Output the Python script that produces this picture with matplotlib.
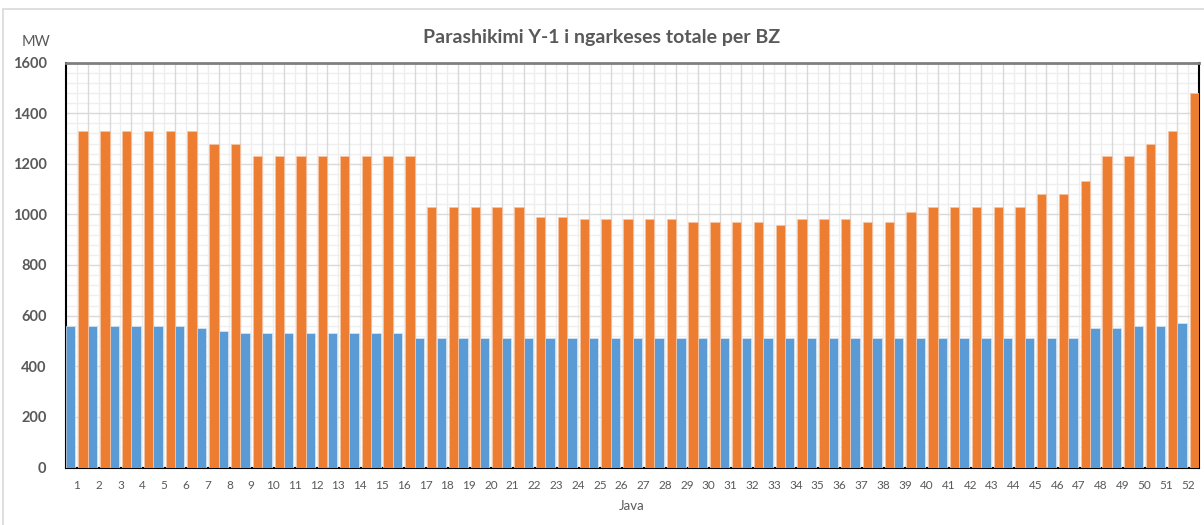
import matplotlib.pyplot as plt
import numpy as np
from matplotlib.patches import Rectangle
from matplotlib.ticker import MultipleLocator

plt.rcParams["font.family"] = ["Lato", "DejaVu Sans"]

weeks = list(range(1, 53))
blue_values = [560] * 6 + [550, 540] + [530] * 8 + [510] * 31 + [550, 550, 560, 560, 570]
orange_values = (
    [1330] * 6 + [1280] * 2 + [1230] * 8 + [1030] * 5 + [990] * 2 + [980] * 5
    + [970] * 4 + [960] + [980] * 3 + [970] * 2 + [1010] + [1030] * 5
    + [1080] * 2 + [1130] + [1230] * 2 + [1280] + [1330] + [1480]
)
y_ticks = [0, 200, 400, 600, 800, 1000, 1200, 1400, 1600]

BLUE = "#5b9bd5"
ORANGE = "#ed7d31"
TEXT = "#595959"

fig = plt.figure(figsize=(12.04, 5.25), dpi=100)
fig.patch.set_facecolor("white")
fig.patches.append(Rectangle((3 / 1204, -0.01), 1.1, 1 - 9 / 525 + 0.01, transform=fig.transFigure,
                             facecolor="none", edgecolor="#d9d9d9", linewidth=1.2))

ax = fig.add_axes([66 / 1204, 1 - 467.5 / 525, (1199 - 66) / 1204, (467.5 - 62.5) / 525])

x = np.array(weeks)
ax.bar(x - 0.28, blue_values, width=0.43, color=BLUE, edgecolor="#dbe8f5", linewidth=0.5, zorder=3)
ax.bar(x + 0.285, orange_values, width=0.43, color=ORANGE, edgecolor="#f6c7a8", linewidth=0.5, zorder=3)

ax.set_xlim(0.5, 52.5)
ax.set_ylim(0, 1600)
ax.set_yticks(y_ticks)
ax.set_yticklabels([str(v) for v in y_ticks], fontweight="bold")
ax.yaxis.set_minor_locator(MultipleLocator(40))
ax.set_xticks(weeks)
ax.set_xticklabels([str(w) for w in weeks])

# category boundaries are the major vertical grid, centres the minor one
for b in np.arange(1.5, 52.5, 1.0):
    ax.axvline(b, color="#d9d9d9", linewidth=1.0, zorder=1)
for c in weeks:
    ax.axvline(c, color="#eeeeee", linewidth=1.0, zorder=0.5)
ax.grid(True, axis="y", which="major", color="#d9d9d9", linewidth=1.0, zorder=1)
ax.grid(True, axis="y", which="minor", color="#efefef", linewidth=1.0, zorder=0.5)
ax.set_axisbelow(True)

ax.tick_params(axis="both", which="both", length=0)
ax.tick_params(axis="y", pad=14, labelsize=10.5, labelcolor=TEXT)
ax.tick_params(axis="x", pad=9, labelsize=8.5, labelcolor=TEXT)

for side in ["left", "bottom", "right"]:
    ax.spines[side].set_color("black")
    ax.spines[side].set_linewidth(1.5)
ax.spines["top"].set_color("#7f7f7f")
ax.spines["top"].set_linewidth(2.0)

fig.text(0.5, 1 - 38 / 525, "Parashikimi Y-1 i ngarkeses totale per BZ", ha="center", va="center",
         fontsize=14, fontweight="bold", color=TEXT)
fig.text(36 / 1204, 1 - 42 / 525, "MW", ha="center", va="center", fontsize=10.5, color=TEXT)
fig.text(632 / 1204, 1 - 506 / 525, "Java", ha="center", va="center", fontsize=9.5, color=TEXT)

fig.savefig("out.png", dpi=100, facecolor="white")
